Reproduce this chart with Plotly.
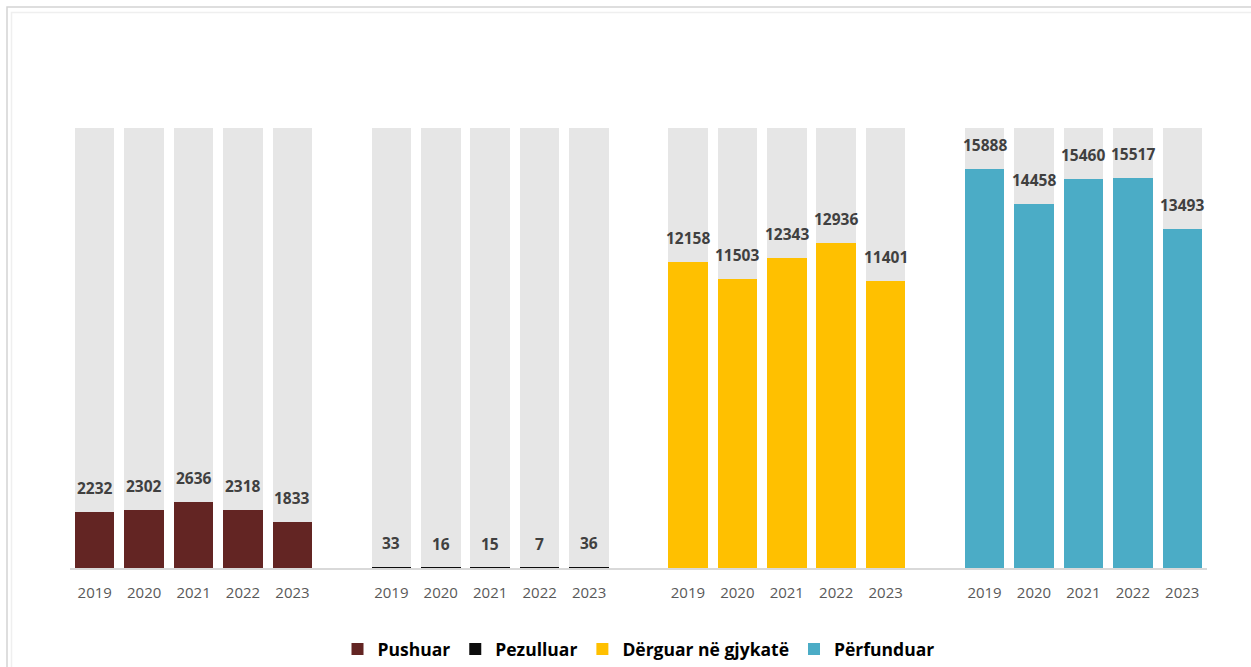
import plotly.graph_objects as go

years = ["2019", "2020", "2021", "2022", "2023"]
series_names = ["Pushuar", "Pezulluar", "Dërguar në gjykatë", "Përfunduar"]
pushuar = [2232, 2302, 2636, 2318, 1833]
pezulluar = [33, 16, 15, 7, 36]
derguar = [12158, 11503, 12343, 12936, 11401]
perfunduar = [15888, 14458, 15460, 15517, 13493]
background_max = 17500

series_values = [pushuar, pezulluar, derguar, perfunduar]
colors = ["#632523", "#0D0D0D", "#FFC000", "#4BACC6"]

W, H = 1251, 667
ml, mr, mt, mb = 70, 44, 128, 99

fig = go.Figure()

all_x, all_lab = [], []
for gi in range(len(series_names)):
    for j, y in enumerate(years):
        all_x.append(gi * 6 + j)
        all_lab.append(y)

fig.add_trace(go.Bar(
    x=all_x, y=[background_max] * len(all_x), width=0.8,
    marker=dict(color="#E6E6E6", line=dict(width=0)),
    showlegend=False, hoverinfo="skip"))

for gi, (name, vals, col) in enumerate(zip(series_names, series_values, colors)):
    xs = [gi * 6 + j for j in range(len(years))]
    fig.add_trace(go.Bar(
        x=xs, y=vals, width=0.8, name=name,
        marker=dict(color=col, line=dict(width=0))))
    for x, v in zip(xs, vals):
        fig.add_annotation(
            x=x, y=v, text=f"<b>{v}</b>", showarrow=False,
            yanchor="bottom", yshift=11,
            font=dict(family="Open Sans", size=15.5, color="#404040"))

pw = W - ml - mr
ph = H - mt - mb
def px_x(p):
    return (p - ml) / pw
def px_y(p):
    return 1 - (p - mt) / ph

fig.add_shape(type="rect", xref="paper", yref="paper",
              x0=px_x(7), x1=px_x(1260), y0=px_y(7), y1=px_y(680),
              line=dict(color="#D4D4D4", width=1.5), layer="below")
fig.add_shape(type="rect", xref="paper", yref="paper",
              x0=px_x(11.5), x1=px_x(1265), y0=px_y(12.5), y1=px_y(685),
              line=dict(color="#EFEFEF", width=1.5), layer="below")

fig.update_layout(
    width=W, height=H,
    margin=dict(l=ml, r=mr, t=mt, b=mb, autoexpand=False),
    barmode="overlay",
    paper_bgcolor="white", plot_bgcolor="white",
    font=dict(family="Open Sans"),
    xaxis=dict(range=[-0.5, 22.5], tickmode="array", tickvals=all_x,
               ticktext=all_lab, showgrid=False, zeroline=False,
               showline=True, linecolor="#D9D9D9", linewidth=1.5,
               ticks="outside", ticklen=10, tickcolor="rgba(0,0,0,0)",
               tickfont=dict(family="Open Sans", size=15, color="#595959")),
    yaxis=dict(range=[0, background_max], visible=False, showgrid=False,
               zeroline=False),
    legend=dict(orientation="h", x=0.5, xanchor="center", y=px_y(649),
                yanchor="middle", traceorder="normal",
                font=dict(family="Open Sans", size=17.5, color="#000000",
                          weight="bold"),
                itemsizing="constant"),
    bargap=0,
)

fig.write_html("out.html", config={"displayModeBar": False},
               post_script="document.body.style.margin='0';document.body.style.padding='0';")
